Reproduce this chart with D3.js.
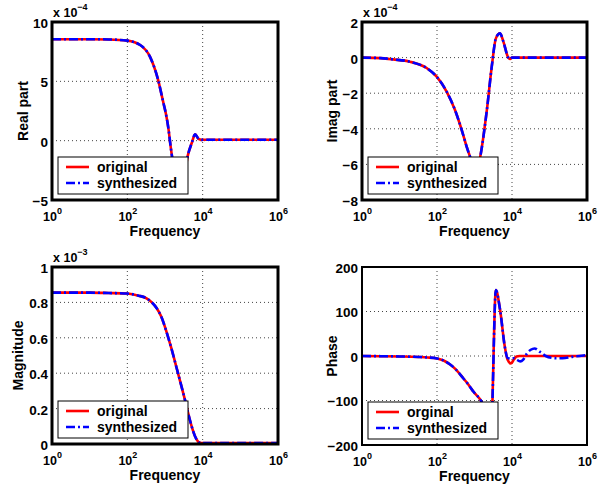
<!DOCTYPE html>
<html>
<head>
<meta charset="utf-8">
<script src="https://cdn.jsdelivr.net/npm/d3@7"></script>
<style>
  html, body { margin: 0; padding: 0; background: #fff; }
  svg { display: block; }
  text { font-family: "Liberation Sans", Arial, Helvetica, sans-serif; font-weight: bold; fill: #000; }
</style>
</head>
<body>
<svg id="chart" width="605" height="486"></svg>
<script>
// ---------------- DATA ----------------
// Frequency axis: log ticks 10^0 .. 10^6
const xTickExps = [0, 2, 4, 6];
const xGridExps = [2, 4];

// Real part (units of 1e-4)
const realFreq = [1, 10, 32, 100, 219, 398, 646, 912, 1047, 1230, 1413, 1514, 1995, 2630, 3311, 4074, 5129, 6310, 7762, 9333, 12000, 100000, 1000000];
const realOrig = [8.55, 8.55, 8.53, 8.43, 8.06, 7.08, 5.2, 3.15, 2.33, 1.04, -0.5, -1.2, -3.3, -3.8, -2.8, -1.2, -0.2, 0.54, 0.15, 0.07, 0.08, 0.08, 0.08];
const realSynth = [8.55, 8.55, 8.53, 8.43, 8.06, 7.08, 5.2, 3.15, 2.33, 1.04, -0.5, -1.2, -3.3, -3.8, -2.8, -1.2, -0.2, 0.54, 0.15, 0.07, 0.08, 0.08, 0.08];
const realTicks = [-5, 0, 5, 10];

// Imaginary part (units of 1e-4)
const imagFreq = [1, 3.16, 6.76, 19, 54, 98, 182, 302, 457, 617, 832, 1096, 1413, 2138, 2884, 3715, 4786, 5888, 7943, 8913, 10000, 100000, 1000000];
const imagOrig = [0, -0.03, -0.1, -0.23, -0.6, -1.07, -1.92, -2.94, -4.07, -5.0, -5.8, -6.5, -5.6, -2.94, -0.51, 1.08, 1.36, 0.9, 0.0, -0.08, 0, 0, 0];
const imagSynth = [0, -0.03, -0.1, -0.23, -0.6, -1.07, -1.92, -2.94, -4.07, -5.0, -5.8, -6.5, -5.6, -2.94, -0.51, 1.08, 1.36, 0.9, 0.0, -0.08, 0, 0, 0];
const imagTicks = [-8, -6, -4, -2, 0, 2];

// Magnitude (units of 1e-3)
const magFreq = [1, 10, 32, 100, 200, 324, 447, 603, 794, 1096, 1479, 2042, 2630, 3388, 4169, 5129, 6310, 7586, 8913, 10000, 100000, 1000000];
const magOrig = [0.855, 0.855, 0.853, 0.850, 0.838, 0.823, 0.800, 0.767, 0.720, 0.634, 0.540, 0.428, 0.340, 0.249, 0.170, 0.098, 0.042, 0.013, 0.006, 0.005, 0.005, 0.005];
const magSynth = [0.855, 0.855, 0.853, 0.850, 0.838, 0.823, 0.800, 0.767, 0.720, 0.634, 0.540, 0.428, 0.340, 0.249, 0.170, 0.098, 0.042, 0.013, 0.006, 0.005, 0.005, 0.005];
const magTicks = [0, 0.2, 0.4, 0.6, 0.8, 1];

// Phase (degrees)
const phaseFreq = [1, 3.16, 10, 32, 56, 100, 150, 224, 316, 501, 700, 933, 1549, 1995, 2754, 3715, 4786, 6457, 7586, 9333, 11220, 13183, 15849, 1000000];
const phaseOrig = [0, -0.4, -1, -2.2, -3.3, -5.5, -10, -19, -30, -50, -65, -80, -103, -125, -170, 148, 105, 20, -8, -17, -8, -1, 0, 0];
const phaseSynthFreq = [1, 3.16, 10, 32, 56, 100, 150, 224, 316, 501, 700, 933, 1549, 1995, 2754, 3715, 4786, 6457, 7586, 9333, 11220, 13183, 16596, 19953, 25119, 31623, 39811, 56234, 79433, 112202, 158489, 223872, 398107, 630957, 1000000];
const phaseSynth = [0, -0.4, -1, -2.2, -3.3, -5.5, -10, -19, -30, -50, -65, -80, -103, -125, -170, 148, 105, 20, -4, -6, -5, -8, -12, -8, 6, 14, 17, 9, 0, -4, -5, -5, -2, 0, 2];
const phaseTicks = [-200, -100, 0, 100, 200];

const legendNamesA = ["original", "synthesized"];
const legendNamesB = ["orginal", "synthesized"];

// ---------------- LAYOUT ----------------
const zip = (xs, ys) => xs.map((v, i) => [v, ys[i]]);
const panels = [
  { box: [52, 22, 278, 200], yDomain: [-5, 10], ticks: realTicks, label: "Real part", labelOff: 24, exp: "\u22124",
    orig: zip(realFreq, realOrig), synth: zip(realFreq, realSynth), names: legendNamesA, bw: 3 },
  { box: [362, 22, 587, 200], yDomain: [-8, 2], ticks: imagTicks, label: "Imag part", labelOff: 25, exp: "\u22124",
    orig: zip(imagFreq, imagOrig), synth: zip(imagFreq, imagSynth), names: legendNamesA, bw: 3 },
  { box: [52, 267, 278, 444], yDomain: [0, 1], ticks: magTicks, label: "Magnitude", labelOff: 29, exp: "\u22123",
    orig: zip(magFreq, magOrig), synth: zip(magFreq, magSynth), names: legendNamesA, bw: 3 },
  { box: [362, 267, 587, 445], yDomain: [-200, 200], ticks: phaseTicks, label: "Phase", labelOff: 25, exp: null,
    orig: zip(phaseFreq, phaseOrig), synth: zip(phaseSynthFreq, phaseSynth), names: legendNamesB, bw: 2 }
];

const svg = d3.select("#chart");
const fmt = v => (v < 0 ? "\u2212" : "") + String(Math.abs(v));

panels.forEach((p, i) => {
  const [x0, y0, x1, y1] = p.box;
  const x = d3.scaleLog().domain([1, 1e6]).range([x0, x1]);
  const y = d3.scaleLinear().domain(p.yDomain).range([y1, y0]);
  const g = svg.append("g");

  // clip
  const cid = "clip" + i;
  svg.append("clipPath").attr("id", cid)
    .append("rect").attr("x", x0).attr("y", y0).attr("width", x1 - x0).attr("height", y1 - y0);

  // grid
  g.selectAll(".vg").data(xGridExps).enter().append("line")
    .attr("x1", d => x(Math.pow(10, d))).attr("x2", d => x(Math.pow(10, d)))
    .attr("y1", y0).attr("y2", y1)
    .attr("stroke", "#444").attr("stroke-width", 1).attr("stroke-dasharray", "1,3");
  g.selectAll(".hg").data(p.ticks.filter(t => t > p.yDomain[0] && t < p.yDomain[1])).enter().append("line")
    .attr("x1", x0).attr("x2", x1)
    .attr("y1", d => y(d)).attr("y2", d => y(d))
    .attr("stroke", "#444").attr("stroke-width", 1).attr("stroke-dasharray", "1,3");

  // curves
  const line = d3.line().x(d => x(d[0])).y(d => y(d[1])).curve(d3.curveMonotoneX);
  const cg = g.append("g").attr("clip-path", `url(#${cid})`);
  cg.append("path").attr("d", line(p.orig)).attr("fill", "none")
    .attr("stroke", "#ff0000").attr("stroke-width", 2.6).attr("stroke-linejoin", "round");
  cg.append("path").attr("d", line(p.synth)).attr("fill", "none")
    .attr("stroke", "#0000ff").attr("stroke-width", 2.6).attr("stroke-dasharray", "9,3,2,3");

  // y axis
  const ya = g.append("g").attr("transform", `translate(${x0},0)`)
    .call(d3.axisLeft(y).tickValues(p.ticks).tickFormat(fmt).tickSize(0).tickPadding(4));
  ya.select(".domain").remove();
  ya.selectAll("text").style("font-size", "13.5px").attr("dy", "0.4em").attr("font-family", null);

  // x axis
  const xa = g.append("g").attr("transform", `translate(0,${y1})`)
    .call(d3.axisBottom(x).tickValues(xTickExps.map(e => Math.pow(10, e))).tickFormat(() => "10").tickSize(0));
  xa.select(".domain").remove();
  xa.selectAll("text").attr("y", 20.5).attr("dy", 0).style("font-size", "12.5px")
    .each(function(d) {
      d3.select(this).append("tspan").attr("dy", -6.5).style("font-size", "9px").text(Math.round(Math.log10(d)));
    });

  // border
  g.append("rect").attr("x", x0).attr("y", y0).attr("width", x1 - x0).attr("height", y1 - y0)
    .attr("fill", "none").attr("stroke", "#000").attr("stroke-width", p.bw);

  // axis labels
  g.append("text").attr("x", (x0 + x1) / 2).attr("y", y1 + 35.5).attr("text-anchor", "middle")
    .style("font-size", "14px").text("Frequency");
  g.append("text").attr("transform", `translate(${x0 - p.labelOff},${(y0 + y1) / 2}) rotate(-90)`)
    .attr("text-anchor", "middle").style("font-size", "14px").text(p.label);

  // exponent label
  if (p.exp) {
    const t = g.append("text").attr("x", x0 + 1).attr("y", y0 - 5.5).style("font-size", "12.5px").text("x 10");
    t.append("tspan").attr("dy", -7).style("font-size", "9px").text(p.exp);
  }

  // legend
  const lx = x0 + 6, ly = y1 - 43;
  const lg = g.append("g").attr("transform", `translate(${lx},${ly})`);
  lg.append("rect").attr("width", 130).attr("height", 37).attr("fill", "#fff").attr("stroke", "#000").attr("stroke-width", 1);
  const styles = [{ c: "#ff0000", dash: null }, { c: "#0000ff", dash: "9,3,2,3" }];
  p.names.forEach((n, k) => {
    lg.append("line").attr("x1", 8).attr("x2", 31).attr("y1", 10 + 16 * k).attr("y2", 10 + 16 * k)
      .attr("stroke", styles[k].c).attr("stroke-width", 2.6).attr("stroke-dasharray", styles[k].dash);
    lg.append("text").attr("x", 39).attr("y", 14.5 + 16 * k).style("font-size", "14px").text(n);
  });
});
</script>
</body>
</html>
